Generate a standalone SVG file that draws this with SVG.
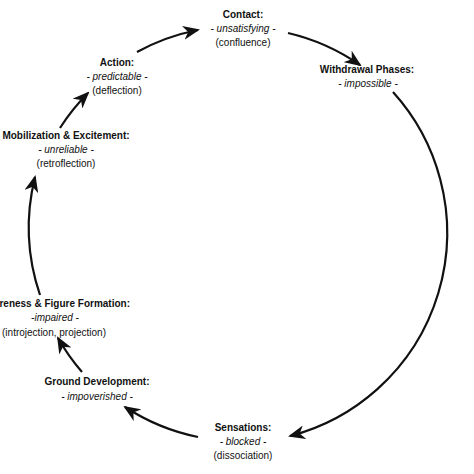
<svg xmlns="http://www.w3.org/2000/svg" width="474" height="474" viewBox="0 0 474 474">
<style>
text{font-family:"Liberation Sans",Arial,sans-serif;font-size:10px;fill:#111;text-anchor:middle}
.t{font-weight:bold}
.i{font-style:italic}
.c{fill:none;stroke:#111;stroke-width:2.2;marker-end:url(#ah)}
</style>
<defs>
<marker id="ah" markerWidth="17" markerHeight="14" refX="15" refY="7" orient="auto" markerUnits="userSpaceOnUse">
<path d="M0,0 L17,7 L0,14 L5,7 z" fill="#111"/>
</marker>
</defs>
<rect width="474" height="474" fill="#fff"/>
<g id="connectors">
<path class="c" d="M137,52 A210,210 0 0 1 198,30"/>
<path class="c" d="M288,33 A210,210 0 0 1 360,65"/>
<path class="c" d="M393,92 A210,210 0 0 1 290,436"/>
<path class="c" d="M198,437 A210,210 0 0 1 125,407"/>
<path class="c" d="M82,372 A210,210 0 0 1 58,338"/>
<path class="c" d="M40,295 A210,210 0 0 1 35,177"/>
<path class="c" d="M60,128 A210,210 0 0 1 88,93"/>
</g>
<g id="contact">
<text class="t" x="243" y="18">Contact:</text>
<text class="i" x="243" y="32">- unsatisfying -</text>
<text x="243" y="46">(confluence)</text>
</g>
<g id="withdrawal">
<text class="t" x="367" y="73">Withdrawal Phases:</text>
<text class="i" x="368" y="87">- impossible -</text>
</g>
<g id="sensations">
<text class="t" x="243" y="431">Sensations:</text>
<text class="i" x="243" y="445">- blocked -</text>
<text x="243" y="459">(dissociation)</text>
</g>
<g id="ground">
<text class="t" x="97" y="385">Ground Development:</text>
<text class="i" x="97" y="400">- impoverished -</text>
</g>
<g id="awareness">
<text class="t" x="130" y="307" style="text-anchor:end">reness &amp; Figure Formation:</text>
<text class="i" x="55" y="321">-impaired -</text>
<text x="54" y="336">(introjection, projection)</text>
</g>
<g id="mobilization">
<text class="t" x="66" y="139">Mobilization &amp; Excitement:</text>
<text class="i" x="66" y="153">- unreliable -</text>
<text x="66" y="167">(retroflection)</text>
</g>
<g id="action">
<text class="t" x="117" y="66">Action:</text>
<text class="i" x="117" y="80">- predictable -</text>
<text x="117" y="94">(deflection)</text>
</g>
</svg>
